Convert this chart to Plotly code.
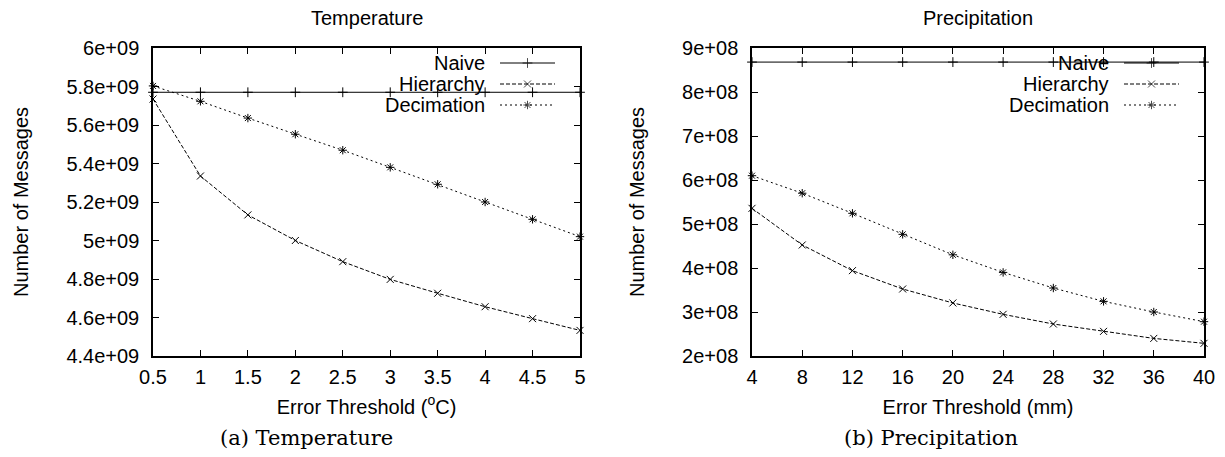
import plotly.graph_objects as go

# ---------------- data ----------------
temp_x = [0.5, 1, 1.5, 2, 2.5, 3, 3.5, 4, 4.5, 5]
temp_naive = [5.77e9, 5.77e9, 5.77e9, 5.77e9, 5.77e9, 5.77e9, 5.77e9, 5.77e9, 5.77e9, 5.77e9]
temp_hierarchy = [5.735e9, 5.335e9, 5.133e9, 5.0e9, 4.89e9, 4.798e9, 4.726e9, 4.656e9, 4.594e9, 4.533e9]
temp_decimation = [5.803e9, 5.723e9, 5.636e9, 5.552e9, 5.469e9, 5.38e9, 5.292e9, 5.2e9, 5.11e9, 5.02e9]

prec_x = [4, 8, 12, 16, 20, 24, 28, 32, 36, 40]
prec_naive = [8.68e8, 8.68e8, 8.68e8, 8.68e8, 8.68e8, 8.68e8, 8.68e8, 8.68e8, 8.68e8, 8.68e8]
prec_hierarchy = [5.356e8, 4.523e8, 3.94e8, 3.523e8, 3.205e8, 2.947e8, 2.727e8, 2.56e8, 2.40e8, 2.288e8]
prec_decimation = [6.098e8, 5.70e8, 5.243e8, 4.765e8, 4.30e8, 3.90e8, 3.545e8, 3.242e8, 3.0e8, 2.78e8]

series_names = ["Naive", "Hierarchy", "Decimation"]

temp_xticks = [0.5, 1, 1.5, 2, 2.5, 3, 3.5, 4, 4.5, 5]
temp_xticklabels = ["0.5", "1", "1.5", "2", "2.5", "3", "3.5", "4", "4.5", "5"]
temp_yticks = [4.4e9, 4.6e9, 4.8e9, 5.0e9, 5.2e9, 5.4e9, 5.6e9, 5.8e9, 6.0e9]
temp_yticklabels = ["4.4e+09", "4.6e+09", "4.8e+09", "5e+09", "5.2e+09", "5.4e+09", "5.6e+09", "5.8e+09", "6e+09"]

prec_xticks = [4, 8, 12, 16, 20, 24, 28, 32, 36, 40]
prec_xticklabels = ["4", "8", "12", "16", "20", "24", "28", "32", "36", "40"]
prec_yticks = [2e8, 3e8, 4e8, 5e8, 6e8, 7e8, 8e8, 9e8]
prec_yticklabels = ["2e+08", "3e+08", "4e+08", "5e+08", "6e+08", "7e+08", "8e+08", "9e+08"]

# ---------------- layout constants (pixels) ----------------
W, H = 1225, 457
PLOT_TOP, PLOT_BOTTOM = 48, 356
LEFT_PLOT = (153, 580)
RIGHT_PLOT = (752, 1204)
FONT = "Liberation Sans, Arial, sans-serif"
SERIF = "DejaVu Serif, serif"

styles = {
    "Naive": dict(dash="solid", symbol="cross-thin", size=7),
    "Hierarchy": dict(dash="4px,2px", symbol="x-thin", size=7),
    "Decimation": dict(dash="2px,3px", symbol="asterisk", size=7),
}

fig = go.Figure()


def add_series(x, ys, xa, ya):
    for name, y in zip(series_names, ys):
        st = styles[name]
        fig.add_trace(go.Scatter(
            x=x, y=y, mode="lines+markers", name=name, showlegend=False,
            xaxis=xa, yaxis=ya, cliponaxis=False,
            line=dict(color="black", width=1, dash=st["dash"]),
            marker=dict(symbol=st["symbol"], size=st["size"], color="black",
                        line=dict(color="black", width=1)),
        ))


add_series(temp_x, [temp_naive, temp_hierarchy, temp_decimation], "x", "y")
add_series(prec_x, [prec_naive, prec_hierarchy, prec_decimation], "x2", "y2")

# ---------------- custom gnuplot-like legends (overlay axis in pixel units) ----------------
legend_rows = [63, 84, 105]
annotations = []
for right_edge in (LEFT_PLOT[1], RIGHT_PLOT[1]):
    text_right = right_edge - 93
    s0, s1 = right_edge - 80, right_edge - 25
    for name, yrow in zip(series_names, legend_rows):
        st = styles[name]
        fig.add_trace(go.Scatter(
            x=[s0, (s0 + s1) / 2, s1], y=[yrow, yrow, yrow], mode="lines+markers",
            showlegend=False, xaxis="x3", yaxis="y3", cliponaxis=False,
            line=dict(color="black", width=1, dash=st["dash"]),
            marker=dict(symbol=st["symbol"], size=[0, st["size"], 0], color="black",
                        line=dict(color="black", width=1)),
        ))
        annotations.append(dict(
            x=text_right, y=yrow, xref="x3", yref="y3", text=name, showarrow=False,
            xanchor="right", yanchor="middle", font=dict(family=FONT, size=20, color="black"),
        ))

# titles and captions
for (x0, x1), title, caption, cap_x in (
    (LEFT_PLOT, "Temperature", "(a) Temperature", 306),
    (RIGHT_PLOT, "Precipitation", "(b) Precipitation", 931),
):
    annotations.append(dict(x=(x0 + x1) / 2, y=18, xref="x3", yref="y3", text=title,
                            showarrow=False, xanchor="center", yanchor="middle",
                            font=dict(family=FONT, size=20, color="black")))
    annotations.append(dict(x=cap_x, y=438, xref="x3", yref="y3", text=caption,
                            showarrow=False, xanchor="center", yanchor="middle",
                            font=dict(family=SERIF, size=21, color="black")))

ydom = [1 - PLOT_BOTTOM / H, 1 - PLOT_TOP / H]

axis_common = dict(
    showgrid=False, zeroline=False, showline=True, linecolor="black", linewidth=1.5,
    mirror="ticks", ticks="inside", ticklen=6, tickwidth=1, tickcolor="black",
    tickfont=dict(family=FONT, size=20, color="black"), tickmode="array",
    automargin=False,
)
title_font = dict(family=FONT, size=20, color="black")

fig.update_layout(
    width=W, height=H, margin=dict(l=0, r=0, t=0, b=0, autoexpand=False),
    paper_bgcolor="white", plot_bgcolor="rgba(0,0,0,0)",
    showlegend=False,
    xaxis=dict(domain=[LEFT_PLOT[0] / W, LEFT_PLOT[1] / W], range=[0.5, 5], anchor="y",
               tickvals=temp_xticks, ticktext=temp_xticklabels, ticklabelstandoff=2,
               title=dict(text="Error Threshold (<sup>o</sup>C)", standoff=13, font=title_font),
               **axis_common),
    yaxis=dict(domain=ydom, range=[4.4e9, 6e9], anchor="x",
               tickvals=temp_yticks, ticktext=temp_yticklabels, ticklabelstandoff=8,
               title=dict(text="Number of Messages", standoff=32, font=title_font),
               **axis_common),
    xaxis2=dict(domain=[RIGHT_PLOT[0] / W, RIGHT_PLOT[1] / W], range=[4, 40], anchor="y2",
                tickvals=prec_xticks, ticktext=prec_xticklabels, ticklabelstandoff=2,
                title=dict(text="Error Threshold (mm)", standoff=13, font=title_font),
                **axis_common),
    yaxis2=dict(domain=ydom, range=[2e8, 9e8], anchor="x2",
                tickvals=prec_yticks, ticktext=prec_yticklabels, ticklabelstandoff=8,
                title=dict(text="Number of Messages", standoff=32, font=title_font),
                **axis_common),
    xaxis3=dict(domain=[0, 1], range=[0, W], visible=False, anchor="y3", fixedrange=True),
    yaxis3=dict(domain=[0, 1], range=[H, 0], visible=False, anchor="x3", fixedrange=True),
    annotations=annotations,
)

fig.write_html(
    "out.html",
    config={"displayModeBar": False},
    post_script="document.body.style.margin='0';document.body.style.overflow='hidden';",
)
